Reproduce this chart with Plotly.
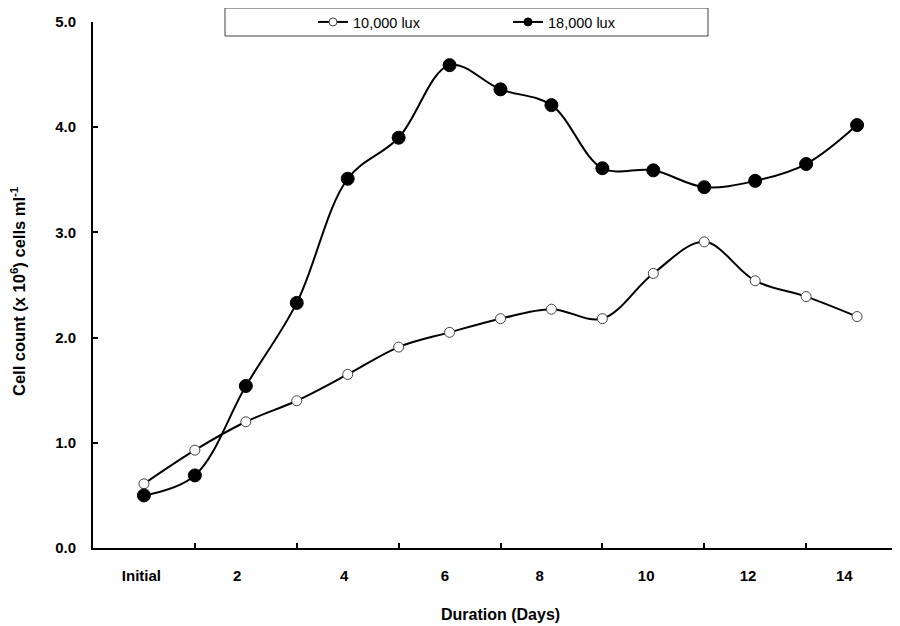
import plotly.graph_objects as go

# ---- data ----
categories = ["Initial", "1", "2", "3", "4", "5", "6", "7", "8", "9", "10", "11", "12", "13", "14"]
day_index = list(range(len(categories)))
lux_10000 = [0.61, 0.93, 1.20, 1.40, 1.65, 1.91, 2.05, 2.18, 2.27, 2.18, 2.61, 2.91, 2.54, 2.39, 2.20]
lux_18000 = [0.50, 0.69, 1.54, 2.33, 3.51, 3.90, 4.59, 4.36, 4.21, 3.61, 3.59, 3.43, 3.49, 3.65, 4.02]
x_tick_labels = ["Initial", "2", "4", "6", "8", "10", "12", "14"]
y_tick_values = [0, 1, 2, 3, 4, 5]
y_tick_labels = ["0.0", "1.0", "2.0", "3.0", "4.0", "5.0"]
series_names = ["10,000 lux", "18,000 lux"]
x_title = "Duration (Days)"
y_title = "Cell count (x 10<sup>6</sup>) cells ml<sup>-1</sup>"

# ---- layout helpers ----
label_positions = [-0.05, 1.83, 3.93, 5.91, 7.77, 9.86, 11.86, 13.75]
minor_tick_positions = [1, 3, 5, 7, 9, 11, 13]
FONT = "Liberation Sans, Arial, sans-serif"

# the page body adds an 8px offset; work in page pixels and convert
OFF = 8
W, H = 900, 626
ML, MR, MT, MB = 93 - OFF, 0, 22 - OFF, H - (548 - OFF)
pw, ph = W - ML - MR, H - MT - MB


def px_x(page_px):
    return (page_px - OFF - ML) / pw


def px_y(page_py):
    return 1 - (page_py - OFF - MT) / ph


fig = go.Figure()

fig.add_trace(go.Scatter(
    x=day_index, y=lux_10000, mode="lines+markers", showlegend=False,
    line=dict(color="black", width=2, shape="spline", smoothing=1),
    marker=dict(symbol="circle", size=10, color="white", line=dict(color="#444444", width=1)),
))
fig.add_trace(go.Scatter(
    x=day_index, y=lux_18000, mode="lines+markers", showlegend=False,
    line=dict(color="black", width=2, shape="spline", smoothing=1),
    marker=dict(symbol="circle", size=13, color="black", line=dict(color="black", width=1)),
))

# legend-only entries with small markers
fig.add_trace(go.Scatter(
    x=[None], y=[None], mode="lines+markers", name=series_names[0],
    line=dict(color="black", width=2),
    marker=dict(symbol="circle", size=8, color="white", line=dict(color="#444444", width=1)),
))
fig.add_trace(go.Scatter(
    x=[None], y=[None], mode="lines+markers", name=series_names[1],
    line=dict(color="black", width=2),
    marker=dict(symbol="circle", size=8, color="black", line=dict(color="black", width=1)),
))

fig.add_shape(type="rect", xref="paper", yref="paper",
              x0=px_x(225), x1=px_x(708), y0=px_y(36), y1=px_y(8),
              line=dict(color="#404040", width=1), fillcolor="rgba(0,0,0,0)", layer="above")

fig.add_annotation(text=x_title, xref="paper", yref="paper",
                   x=px_x(500), y=px_y(614), xanchor="center", yanchor="middle",
                   showarrow=False, font=dict(family=FONT, size=16, color="black", weight="bold"))
fig.add_annotation(text=y_title, xref="paper", yref="paper",
                   x=px_x(18), y=px_y(291), xanchor="center", yanchor="middle", textangle=-90,
                   showarrow=False, font=dict(family=FONT, size=16.5, color="black", weight="bold"))

fig.update_layout(
    width=W, height=H,
    margin=dict(l=ML, r=MR, t=MT, b=MB, autoexpand=False),
    paper_bgcolor="white", plot_bgcolor="white",
    font=dict(family=FONT, color="black"),
    legend=dict(
        orientation="h", x=px_x(313), xanchor="left", y=px_y(22), yanchor="middle",
        font=dict(family=FONT, size=14.5, color="black"),
        bgcolor="rgba(0,0,0,0)", borderwidth=0,
        entrywidth=150, entrywidthmode="pixels", itemwidth=30,
    ),
    xaxis=dict(
        range=[-1.0, 15.0], showgrid=False, zeroline=False, automargin=False,
        showline=True, linecolor="black", linewidth=2,
        tickmode="array", tickvals=label_positions, ticktext=x_tick_labels,
        ticks="", tickfont=dict(family=FONT, size=15, color="black", weight="bold"),
        ticklabelstandoff=13,
        minor=dict(tickmode="array", tickvals=minor_tick_positions, ticks="inside",
                   ticklen=5, tickwidth=2, tickcolor="black", showgrid=False),
    ),
    yaxis=dict(
        range=[0, 5], showgrid=False, zeroline=False, automargin=False,
        showline=True, linecolor="black", linewidth=2,
        tickmode="array", tickvals=y_tick_values, ticktext=y_tick_labels,
        ticks="inside", ticklen=5, tickwidth=2, tickcolor="black",
        tickfont=dict(family=FONT, size=15, color="black", weight="bold"),
        ticklabelstandoff=12,
    ),
)

fig.write_html("out.html")
